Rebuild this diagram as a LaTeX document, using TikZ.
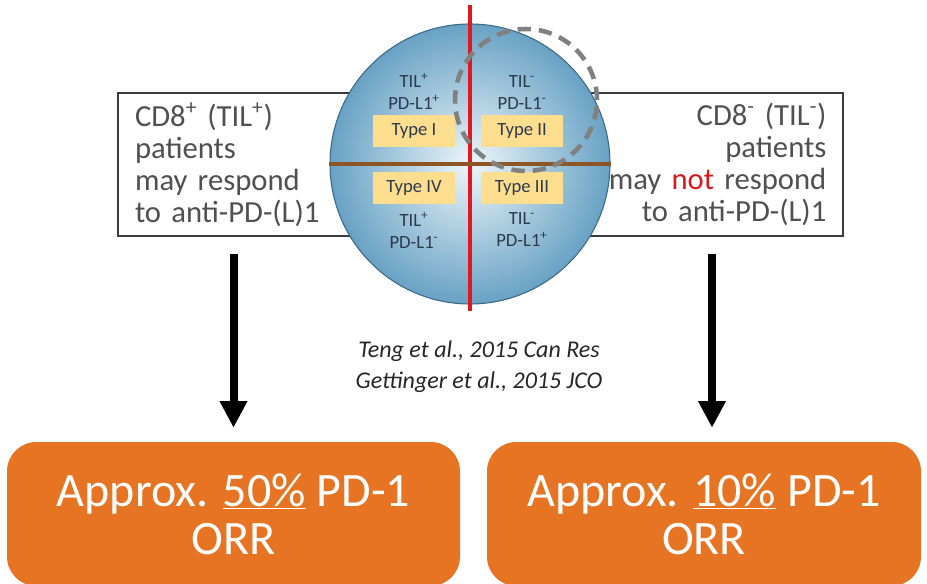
\documentclass[tikz,border=0pt]{standalone}
\usepackage{fontspec}
\setmainfont{Carlito}
\usepackage{tikz}
\usetikzlibrary{arrows.meta,positioning,shapes.geometric}
\definecolor{textgray}{RGB}{80,80,80}
\definecolor{framegray}{RGB}{60,60,60}
\definecolor{tumorin}{RGB}{238,246,250}
\definecolor{tumorout}{RGB}{104,162,196}
\definecolor{tumorrim}{RGB}{60,105,135}
\definecolor{tumortext}{RGB}{45,58,78}
\definecolor{typefill}{RGB}{252,222,142}
\definecolor{splitred}{RGB}{228,22,32}
\definecolor{splitbrown}{RGB}{140,85,35}
\definecolor{dashgray}{RGB}{128,128,128}
\definecolor{orrorange}{RGB}{230,116,34}
\definecolor{notred}{RGB}{215,25,30}

\begin{document}
\begin{tikzpicture}[
  x=0.75pt, y=-0.75pt,
  patbox/.style={draw=framegray, line width=1.1pt, fill=white, minimum height=107.25pt,
    inner xsep=12.5pt, text=textgray, font=\fontsize{23}{24}\selectfont},
  typebox/.style={fill=typefill, minimum width=61.5pt, minimum height=24pt, inner sep=0pt,
    text=tumortext, font=\fontsize{14}{15}\selectfont},
  tillabel/.style={align=center, text=tumortext, inner sep=0pt, font=\fontsize{14}{16.5}\selectfont},
  orrbox/.style={fill=orrorange, rounded corners=22pt, minimum height=108pt, align=center,
    text=white, font=\fontsize{36}{36}\selectfont},
  arr/.style={-{Triangle[length=20pt,width=19.5pt]}, line width=6pt}
]
\useasboundingbox (0,0) rectangle (927,584);

% patient groups
\node[patbox, minimum width=189pt, text width=163.5pt, align=left] (lbox) at (244,164.5)
  {CD8\textsuperscript{+} (TIL\textsuperscript{+})\\patients\\may respond\\to anti-PD-(L)1};
\node[patbox, minimum width=204.75pt, text width=179.75pt, align=right] (rbox) at (706.5,164.5)
  {CD8\textsuperscript{-} (TIL\textsuperscript{-})\\patients\\may \textcolor{notred}{not} respond\\to anti-PD-(L)1};

% tumour classification
\node[circle, draw=tumorrim, line width=0.8pt, shading=radial, inner color=tumorin,
  outer color=tumorout, minimum size=210pt] (tumor) at (470,164) {};
\draw[splitred, line width=3pt] ([yshift=14pt]tumor.north) -- ([yshift=-5pt]tumor.south);
\draw[splitbrown, line width=2.3pt] (tumor.west) -- (tumor.east);

\node[typebox] (t1) at (414,131) {Type I};
\node[typebox] (t2) at (522,131) {Type II};
\node[typebox] (t4) at (414,188) {Type IV};
\node[typebox] (t3) at (522,188) {Type III};
\node[tillabel, above=4pt of t1] {TIL\textsuperscript{+}\\PD-L1\textsuperscript{+}};
\node[tillabel, above=4pt of t2] {TIL\textsuperscript{-}\\PD-L1\textsuperscript{-}};
\node[tillabel, below=6pt of t4] {TIL\textsuperscript{+}\\PD-L1\textsuperscript{-}};
\node[tillabel, below=6pt of t3] {TIL\textsuperscript{-}\\PD-L1\textsuperscript{+}};

\node[circle, draw=dashgray, line width=3.4pt, dash pattern=on 10pt off 6pt,
  minimum size=106.5pt] (focus) at (526,100) {};

% references
\node[align=center, text=black!85, font=\itshape\fontsize{18}{23}\selectfont] (refs) at (479,367)
  {Teng et al., 2015 Can Res\\Gettinger et al., 2015 JCO};

% response rates
\node[orrbox, minimum width=339.75pt] (lorr) at (233.5,514) {Approx. \underline{50\%} PD-1\\ORR};
\node[orrbox, minimum width=325.5pt] (rorr) at (704,514) {Approx. \underline{10\%} PD-1\\ORR};

\draw[arr, shorten <=12.75pt, shorten >=10.5pt] (lorr.north |- lbox.south) -- (lorr.north);
\draw[arr, shorten <=12.75pt, shorten >=10.5pt] ([xshift=6pt]rorr.north |- rbox.south) -- ([xshift=6pt]rorr.north);
\end{tikzpicture}
\end{document}
